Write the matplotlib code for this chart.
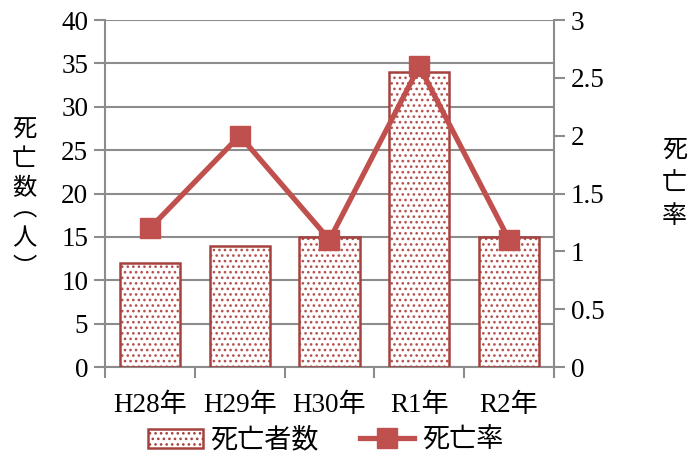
import matplotlib
matplotlib.use("Agg")
import matplotlib.pyplot as plt
from matplotlib.patches import Patch
from matplotlib.lines import Line2D
import numpy as np

categories = ["H28年", "H29年", "H30年", "R1年", "R2年"]
deaths = [12, 14, 15, 34, 15]
rates = [1.2, 2.0, 1.1, 2.6, 1.1]
left_ticks = [0, 5, 10, 15, 20, 25, 30, 35, 40]
right_ticks = [0, 0.5, 1, 1.5, 2, 2.5, 3]
right_tick_labels = ["0", "0.5", "1", "1.5", "2", "2.5", "3"]
left_label_chars = ["死", "亡", "数", "︵", "人", "︶"]
right_label_chars = ["死", "亡", "率"]

FONT = ["Liberation Serif", "Noto Sans CJK JP", "DejaVu Sans"]
CJK = ["Noto Sans CJK JP", "DejaVu Sans"]
plt.rcParams['font.family'] = FONT
plt.rcParams['hatch.linewidth'] = 1.1

BAR_EDGE = "#A5423F"
DOT = "#B5504D"
LINE = "#C0504D"
GRID = "#8C8C8C"
FS = 19.5

fig = plt.figure(figsize=(6.92, 4.57), dpi=100)
ax = fig.add_axes([0.1517, 0.1969, 0.6489, 0.7593])
x = np.arange(len(categories))

ax.set_xlim(-0.5, len(categories) - 0.5)
ax.set_ylim(0, 40)
ax.set_yticks(left_ticks)
ax.set_yticklabels([str(t) for t in left_ticks], fontsize=FS)
ax.yaxis.grid(True, color=GRID, linewidth=1.5)
ax.set_axisbelow(True)

ax.bar(x, deaths, width=0.67, color="white", edgecolor=DOT, hatch="...", linewidth=0, zorder=2)
ax.bar(x, deaths, width=0.67, fill=False, edgecolor=BAR_EDGE, linewidth=1.8, zorder=3)

ax.set_xticks(np.arange(len(categories) + 1) - 0.5)
ax.set_xticklabels([])
ax.set_xticks(x, minor=True)
ax.set_xticklabels(categories, minor=True, fontsize=FS)
ax.tick_params(axis='x', which='minor', length=0, pad=19)
ax.tick_params(axis='x', which='major', length=8, width=1.5, color=GRID)
ax.tick_params(axis='y', length=8, width=1.5, color=GRID, pad=4)
for s in ["top", "right"]:
    ax.spines[s].set_visible(False)
for s in ["left", "bottom"]:
    ax.spines[s].set_color(GRID)
    ax.spines[s].set_linewidth(1.5)

ax2 = ax.twinx()
ax2.set_ylim(0, 3)
ax2.set_yticks(right_ticks)
ax2.set_yticklabels(right_tick_labels, fontsize=FS)
ax2.tick_params(axis='y', length=8, width=1.5, color=GRID, pad=4)
for s in ["top", "left", "bottom"]:
    ax2.spines[s].set_visible(False)
ax2.spines["right"].set_color(GRID)
ax2.spines["right"].set_linewidth(1.5)
ax2.plot(x, rates, color=LINE, linewidth=3.8, marker="s", markersize=14, zorder=5)

# vertical stacked y labels
left_y = [0.716, 0.652, 0.588, 0.541, 0.479, 0.413]
for ch, yy in zip(left_label_chars, left_y):
    fig.text(0.035, yy, ch, family=CJK, fontsize=17.5, ha="center", va="center")
right_y = [0.672, 0.600, 0.528]
for ch, yy in zip(right_label_chars, right_y):
    fig.text(0.975, yy, ch, family=CJK, fontsize=18, ha="center", va="center")

handles = [Patch(facecolor="white", edgecolor=BAR_EDGE, hatch="...", linewidth=1.8),
           Line2D([0], [0], color=LINE, linewidth=3.8, marker="s", markersize=14)]
leg = fig.legend(handles, ["死亡者数", "死亡率"], loc="center", bbox_to_anchor=(0.471, 0.037),
                 ncol=2, frameon=False, prop={"family": CJK, "size": FS},
                 handlelength=2.0, handletextpad=0.3, columnspacing=1.5, borderaxespad=0)

fig.savefig("out.png", dpi=100)
